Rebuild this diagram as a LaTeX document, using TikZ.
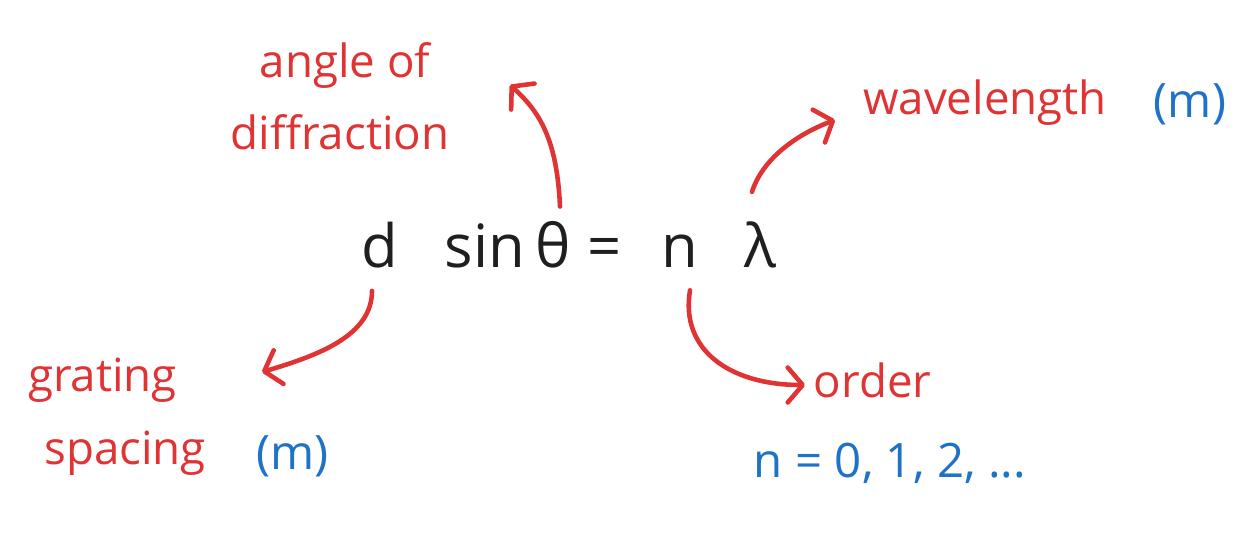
\documentclass[tikz,border=0pt]{standalone}
\usepackage{fontspec}
\setmainfont{Open Sans}
\usepackage{tikz}
\usetikzlibrary{positioning,arrows.meta}

\definecolor{notered}{RGB}{224,51,51}
\definecolor{noteblue}{RGB}{30,115,200}

\tikzset{
  eq/.style={anchor=base, inner sep=0pt, font=\fontsize{34}{40}\selectfont, text=black!88},
  lbl/.style={anchor=base, inner sep=0pt, font=\fontsize{26}{31}\selectfont, text=notered},
  unit/.style={anchor=base, inner sep=0pt, font=\fontsize{27}{32}\selectfont, text=noteblue},
  pointer/.style={draw=notered, line width=2.6pt, line cap=round,
    -{Straight Barb[length=3mm,width=7mm,line width=2.6pt,round]}},
}

\begin{document}
\begin{tikzpicture}
  \useasboundingbox (0,0) rectangle (24.76,11);

  % Define nodes
  \node[eq] (eqd)     at (7.6,5.64)  {d};
  \node[eq] (eqsin)   at (9.7,5.64)  {sin};
  \node[eq] (eqtheta) at (11.06,5.64) {θ};
  \node[eq] (eqeq)    at (12.1,5.64) {=};
  \node[eq] (eqn)     at (13.6,5.64) {n};
  \node[eq] (eqlam)   at (15.2,5.64) {λ};

  \node[lbl] (angle)   at (6.9,9.44)  {angle of};
  \node[lbl] (diffr)   at (6.8,8.0)   {diffraction};
  \node[lbl] (wave)    at (19.7,8.7)  {wavelength};
  \node[unit] (wavem)  at (23.8,8.65) {(m)};
  \node[lbl] (grating) at (2.05,3.16) {grating};
  \node[lbl] (spacing) at (2.5,1.7)   {spacing};
  \node[unit] (spacem) at (5.85,1.6)  {(m)};
  \node[lbl] (order)   at (17.45,3.04) {order};
  \node[unit] (orders) at (17.8,1.44) {n = 0, 1, 2, ...};

  \coordinate (angletip) at (10.2,9.3);
  \coordinate (wavetip)  at (16.7,8.6);
  \coordinate (gridtip)  at (5.24,3.56);
  \coordinate (ordertip) at (16.1,3.3);

  % Connect the nodes
  \draw[pointer] ([xshift=1.4mm,yshift=3mm]eqtheta.north) .. controls (11.14,8.2) and (10.8,8.76) .. (angletip);
  \draw[pointer] ([xshift=-1.6mm,yshift=6mm]eqlam.north) .. controls (15.24,7.8) and (15.9,8.3) .. (wavetip);
  \draw[pointer] ([xshift=-1.6mm,yshift=-4.4mm]eqd.south) .. controls (7.44,4.3) and (6.4,3.9) .. (gridtip);
  \draw[pointer] ([xshift=2mm,yshift=-4.4mm]eqn.south) .. controls (13.6,4.0) and (14.6,3.3) .. (ordertip);

\end{tikzpicture}
\end{document}
